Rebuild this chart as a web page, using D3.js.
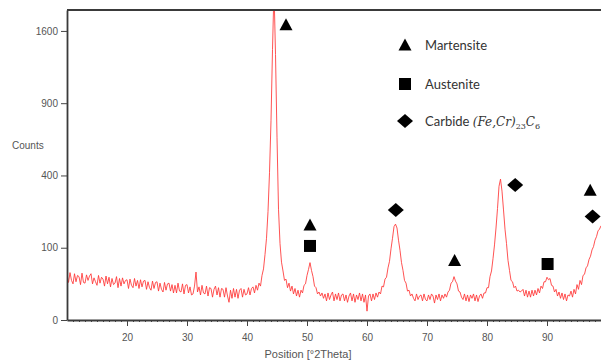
<!DOCTYPE html>
<html>
<head>
<meta charset="utf-8">
<script src="https://cdn.jsdelivr.net/npm/d3@7"></script>
<style>
  body { margin: 0; background: #fff; }
  svg { display: block; }
</style>
</head>
<body>
<svg id="chart"></svg>
<script>
// XRD scan, counts every 0.25 deg 2theta starting at 10
const scanStart = 10;
const scanStep = 0.25;
const counts = [
  40, 27, 43, 30,   25, 41, 28, 38,   36, 24, 42, 27,   26, 39, 30, 37,   // 10-13
  41, 25, 34, 28,   23, 38, 26, 35,   32, 22, 37, 25,   35, 21, 33, 24,   // 14-17
  26, 36, 20, 33,   22, 34, 25, 30,   31, 19, 32, 23,   20, 33, 22, 30,   // 18-21
  19, 31, 21, 29,   30, 18, 28, 20,   17, 29, 19, 27,   28, 16, 26, 18,   // 22-25
  15, 27, 17, 25,   26, 16, 24, 14,   23, 14, 26, 16,   15, 25, 13, 23,   // 26-29
  24, 14, 21, 12,   13, 22, 44, 15,   21, 12, 23, 14,   13, 22, 11, 20,   // 30-33
  19, 10, 18, 22,   12, 20, 10, 19,   18, 10, 20, 11,   6, 17, 9, 19,     // 34-37
  10, 18, 9, 17,    19, 10, 18, 12,   13, 20, 12, 19,   21, 14, 23, 17,   // 38-41
  26, 22, 38, 50,   82, 128, 225, 415,   760, 1400, 2100, 1350,   640, 235, 112, 64,   // 42-45
  46, 30, 32, 20,   26, 16, 22, 13,   19, 11, 17, 10,   17, 14, 23, 25,   // 46-49
  38, 49, 63, 47,   36, 22, 20, 13,   15, 11, 14, 9,    13, 7, 14, 8,     // 50-53
  12, 15, 7, 13,    8, 14, 7, 12,     13, 7, 12, 6,     11, 14, 7, 13,    // 54-57
  6, 12, 8, 14,     7, 13, 6, 12,     1.5, 11, 13, 7,   13, 8, 14, 10,    // 58-61
  15, 13, 22, 21,   32, 35, 52, 66,   97, 128, 167, 176,   162, 122, 93, 63,   // 62-65
  47, 30, 26, 16,   17, 11, 13, 9,    7, 13, 8, 11,     12, 7, 13, 8,     // 66-69
  7, 12, 8, 13,     11, 5.5, 12, 8,   13, 7, 12, 9,     13, 10, 15, 17,   // 70-73
  26, 28, 36, 29,   25, 16, 15, 10,   8, 13, 7, 12,     6.5, 12, 9, 13,   // 74-77
  7, 12, 6.5, 11,   13, 9, 14, 14,    20, 20, 36, 46,   72, 108, 162, 238,   // 78-81
  342, 380, 318, 232,   158, 112, 68, 47,   30, 28, 20, 22,   16, 17, 15, 16,   // 82-85
  18, 11, 17, 10,   16, 10, 17, 11,   17, 12, 19, 14,   22, 19, 28, 28,   // 86-89
  35, 31, 33, 23,   22, 15, 18, 11,   15, 9, 14, 8,     13, 7, 12, 11,    // 90-93
  16, 10, 18, 13,   24, 18, 30, 24,   38, 40, 52, 56,   70, 78, 94, 103,  // 94-97
  122, 133, 152, 158,   170                                                // 98-99
];

const xTicks = [20, 30, 40, 50, 60, 70, 80, 90];
const yTicks = [0, 100, 400, 900, 1600];

// peak labels: phase, 2theta, counts level where the symbol sits
const peakPhases = ["M", "M", "A", "C", "M", "C", "A", "M", "C"];
const peakTheta  = [46.5, 50.5, 50.5, 64.8, 74.6, 84.7, 90.1, 97.2, 97.6];
const peakLevel  = [1670, 173, 105, 232, 68, 349, 60, 322, 205];

const legendPhases = ["M", "A", "C"];
const legendNames = ["Martensite", "Austenite", "Carbide"];

const width = 601, height = 363;
const marginLeft = 67, marginTop = 10, marginBottom = 43;

const data = counts.map((c, i) => ({ theta: scanStart + i * scanStep, count: c }));

const x = d3.scaleLinear().domain([10, 99]).range([marginLeft, width]);
const y = d3.scaleSqrt().domain([0, 1840]).range([height - marginBottom, marginTop]);

const svg = d3.select("#chart")
  .attr("width", width)
  .attr("height", height)
  .attr("viewBox", [0, 0, width, height])
  .style("font-family", "'Liberation Sans', Arial, sans-serif");

svg.append("defs").append("clipPath").attr("id", "plot")
  .append("rect")
  .attr("x", marginLeft).attr("y", marginTop)
  .attr("width", width - marginLeft).attr("height", height - marginBottom - marginTop);

// the scan
const line = d3.line().x(d => x(d.theta)).y(d => y(d.count));
svg.append("path")
  .datum(data)
  .attr("clip-path", "url(#plot)")
  .attr("fill", "none")
  .attr("stroke", "#ff3535")
  .attr("stroke-opacity", 0.85)
  .attr("stroke-width", 1)
  .attr("stroke-linejoin", "round")
  .attr("d", line);

// minor ticks every degree
svg.append("g")
  .attr("transform", `translate(0,${height - marginBottom})`)
  .call(d3.axisBottom(x).tickValues(d3.range(11, 99)).tickSize(2).tickFormat(""))
  .call(g => g.select(".domain").remove())
  .call(g => g.selectAll("line").attr("stroke", "#444"));

// x axis
svg.append("g")
  .attr("transform", `translate(0,${height - marginBottom})`)
  .call(d3.axisBottom(x).tickValues(xTicks).tickSize(6).tickPadding(8).tickSizeOuter(0))
  .call(g => g.select(".domain").attr("stroke", "#3a3a3a").attr("stroke-width", 1.8))
  .call(g => g.selectAll("line").attr("stroke", "#444"))
  .call(g => g.selectAll("text").attr("fill", "#555").style("font-size", "10px"));

// y axis
svg.append("g")
  .attr("transform", `translate(${marginLeft},0)`)
  .call(d3.axisLeft(y).tickValues(yTicks).tickFormat(d3.format("d")).tickSize(6).tickPadding(3).tickSizeOuter(0))
  .call(g => g.select(".domain").attr("stroke", "#3a3a3a").attr("stroke-width", 1.8))
  .call(g => g.selectAll("line").attr("stroke", "#444"))
  .call(g => g.selectAll("text").attr("fill", "#555").style("font-size", "10px"));

// top frame
svg.append("line")
  .attr("x1", marginLeft).attr("x2", width)
  .attr("y1", marginTop).attr("y2", marginTop)
  .attr("stroke", "#3a3a3a").attr("stroke-width", 1.8);

svg.append("text")
  .attr("x", 12).attr("y", 149)
  .attr("fill", "#555").style("font-size", "10px")
  .text("Counts");

svg.append("text")
  .attr("x", 308).attr("y", 358)
  .attr("text-anchor", "middle")
  .attr("fill", "#555").style("font-size", "11px")
  .text("Position [°2Theta]");

// symbols
function symbolPath(phase) {
  if (phase === "M") return "M0,-6.5L6.5,5.5L-6.5,5.5Z";
  if (phase === "A") return "M-6,-6H6V6H-6Z";
  return "M0,-7L8,0L0,7L-8,0Z";
}

svg.append("g")
  .selectAll("path")
  .data(peakPhases)
  .join("path")
  .attr("transform", (p, i) => `translate(${x(peakTheta[i])},${y(peakLevel[i])})`)
  .attr("d", p => symbolPath(p))
  .attr("fill", "#000");

// legend
const legendY = [45, 84, 121];
const legend = svg.append("g")
  .style("font-family", "Lato, 'Open Sans', sans-serif")
  .style("font-size", "13px");

legend.selectAll("path")
  .data(legendPhases)
  .join("path")
  .attr("transform", (p, i) => `translate(405,${legendY[i]})`)
  .attr("d", p => symbolPath(p))
  .attr("fill", "#000");

const labels = legend.selectAll("text")
  .data(legendNames)
  .join("text")
  .attr("x", 425)
  .attr("y", (d, i) => legendY[i] + 4.5)
  .attr("fill", "#333")
  .text(d => d + (d === "Carbide" ? " " : ""));

const formula = labels.filter(d => d === "Carbide")
  .append("tspan")
  .style("font-family", "'DejaVu Serif', 'Liberation Serif', serif")
  .style("font-style", "italic")
  .style("font-size", "12px");
formula.append("tspan").text("(Fe,Cr)");
formula.append("tspan").attr("dy", 3).style("font-size", "8px").style("font-style", "normal").text("23");
formula.append("tspan").attr("dy", -3).text("C");
formula.append("tspan").attr("dy", 3).style("font-size", "8px").style("font-style", "normal").text("6");
</script>
</body>
</html>
